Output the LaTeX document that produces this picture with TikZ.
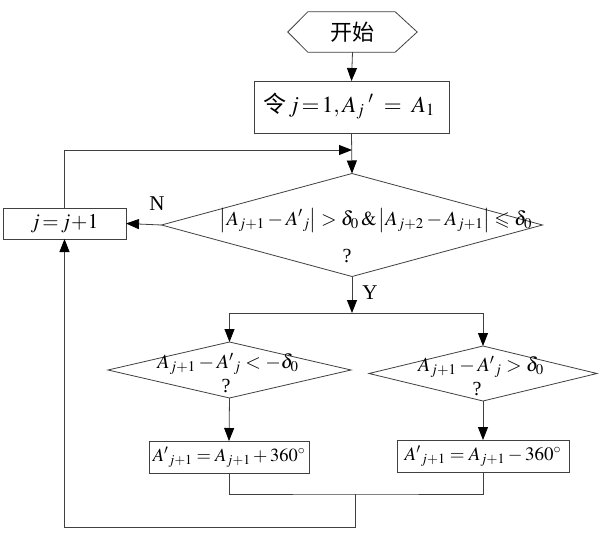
\documentclass[tikz,border=0pt]{standalone}
\usepackage{amssymb}
\usepackage{mathptmx}
\usepackage[no-math]{fontspec}
\setmainfont{Liberation Serif}
\newfontfamily\cjk{Noto Sans CJK SC}
\usetikzlibrary{arrows.meta,shapes.geometric}
\begin{document}
\begin{tikzpicture}[x=1pt,y=-1pt,
  ln/.style={draw=black!75, line width=0.8pt},
  arr/.style={-{Triangle[length=13pt,width=10pt,color=black]}},
  txt/.style={font=\fontsize{20}{22}\selectfont, inner sep=0pt},
  box/.style={draw=black!75, line width=0.8pt, rectangle, inner sep=0pt, outer sep=0pt},
  dia/.style={draw=black!75, line width=0.8pt, diamond, inner sep=0pt, outer sep=0pt}]
\useasboundingbox (0,0) rectangle (600,546);
\fill[white] (0,0) rectangle (600,546);

% start
\node[txt, font=\cjk\fontsize{22}{24}\selectfont, minimum width=129pt, minimum height=40pt] (start) at (352.5,32) {开始};
\draw[ln] (start.west) -- ([xshift=20pt]start.north west) -- ([xshift=-22pt]start.north east) -- (start.east) -- ([xshift=-22pt]start.south east) -- ([xshift=20pt]start.south west) -- cycle;

% init box
\node[box, minimum width=195pt, minimum height=52pt] (init) at (351.5,107) {};
\node[txt, font=\fontsize{23}{25}\selectfont] (tinit) at (349,106) {{\cjk 令}$\,j\!=\!1,A_{j}{}^{\;\prime}\;=\;A_1$};

% main diamond
\node[dia, minimum width=381pt, minimum height=103pt] (d1) at (352,225) {};
\node[txt] (t1) at (376,220) {$\left|A_{j+1}-A^{\prime}{}_{j}\right|>\delta_0\,\&\left|A_{j+2}-A_{j+1}\right|\leqslant\delta_0$};
\node[txt] (q1) at (347,256) {?};

% j box
\node[box, minimum width=123pt, minimum height=31pt] (jbox) at (64.5,223.5) {};
\node[txt, font=\fontsize{21}{23}\selectfont] (tj) at (64.5,224) {$j\!=\!j\!+\!1$};

% labels
\node[txt, font=\fontsize{21}{23}\selectfont] (lN) at (157,204) {N};
\node[txt, font=\fontsize{21}{23}\selectfont] (lY) at (370,293) {Y};

% lower diamonds
\node[dia, minimum width=243pt, minimum height=56pt] (d2) at (229.5,370) {};
\node[txt] (t2) at (228,364) {$A_{j+1}-A^{\prime}{}_{j}<-\delta_0$};
\node[txt] (q2) at (226,386) {?};
\node[dia, minimum width=228pt, minimum height=55pt] (d3) at (483,373.5) {};
\node[txt] (t3) at (481,367) {$A_{j+1}-A^{\prime}{}_{j}>\delta_0$};
\node[txt] (q3) at (477,389) {?};

% lower boxes
\node[box, minimum width=160pt, minimum height=32pt] (b2) at (229,457) {};
\node[txt, font=\fontsize{18.5}{21}\selectfont] (tb2) at (229,457) {$A^{\prime}{}_{j+1}=A_{j+1}+360^{\circ}$};
\node[box, minimum width=172pt, minimum height=32pt] (b3) at (483,456) {};
\node[txt, font=\fontsize{19}{21}\selectfont] (tb3) at (483,456) {$A^{\prime}{}_{j+1}=A_{j+1}-360^{\circ}$};

% coordinates
\coordinate (m1) at (352,150);
\coordinate (sp) at (352,313);
\coordinate (sL) at (229.5,313);
\coordinate (sR) at (483,313);
\coordinate (mg) at (355,494);
\coordinate (bot) at (355,527);

% connectors
\draw[ln,arr] (start.south) -- (init.north);
\draw[ln,arr] (init.south) -- (d1.north);
\draw[ln,arr] (jbox.north) |- (m1);
\draw[ln,arr] (d1.west) -- (jbox.east);
\draw[ln,arr] (d1.south) -- (sp);
\draw[ln] (sL) -- (sR);
\draw[ln,arr] (sL) -- (d2.north);
\draw[ln,arr] (sR) -- (d3.north);
\draw[ln,arr] (d2.south) -- (b2.north);
\draw[ln,arr] (d3.south) -- (b3.north);
\draw[ln] (b2.south) |- (mg) -| (b3.south);
\draw[ln,arr] (mg) -- (bot) -| (jbox.south);
\end{tikzpicture}
\end{document}
